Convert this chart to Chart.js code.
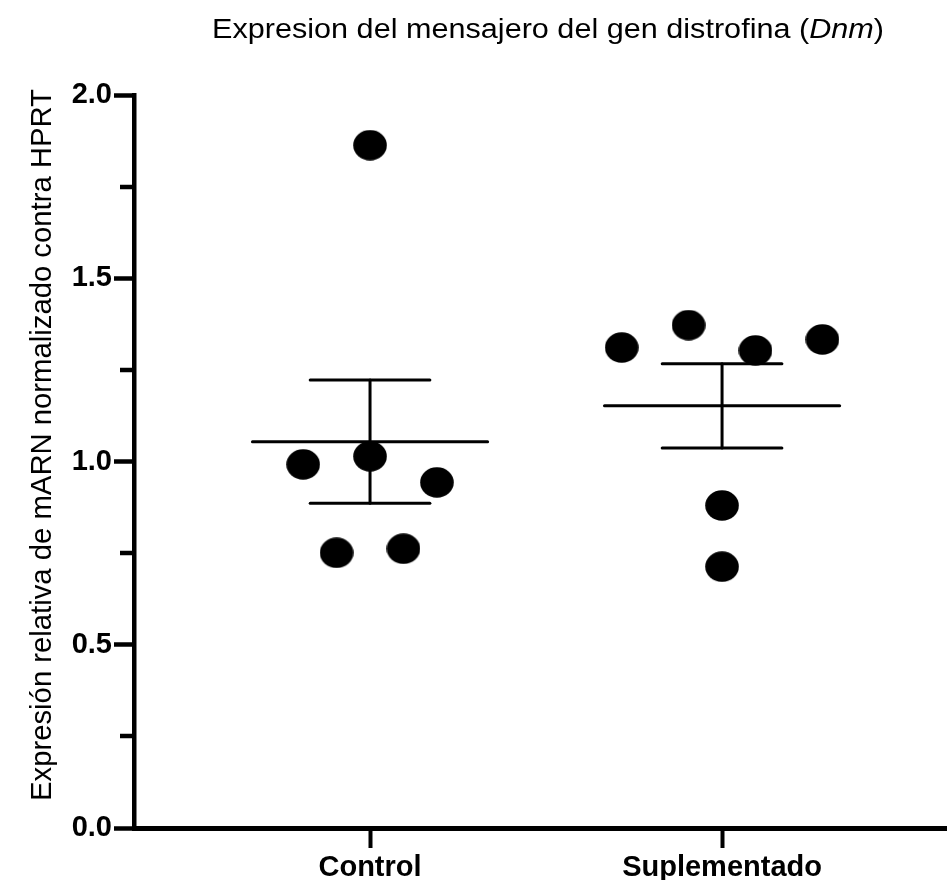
<!DOCTYPE html>
<html>
<head>
<meta charset="utf-8">
<script src="https://cdn.jsdelivr.net/npm/chart.js@4.4.0/dist/chart.umd.min.js"></script>
<style>
  html, body { margin: 0; padding: 0; overflow: hidden; background: #fff; }
  canvas { display: block; }
</style>
</head>
<body>
<canvas id="grafica" width="947" height="880"></canvas>
<script>
// datos
const categorias = ['Control', 'Suplementado'];
const valoresControl = [0.992, 1.863, 1.014, 0.943, 0.751, 0.762];
const columnasControl = [-2, 0, 0, 2, -1, 1];
const valoresSuplementado = [1.311, 1.372, 1.303, 1.333, 0.880, 0.713];
const columnasSuplementado = [-3, -1, 1, 3, 0, 0];
const ticksY = [0, 0.5, 1, 1.5, 2];
const ticksMenoresY = [0.25, 0.75, 1.25, 1.75];

const pasoColumna = 0.095;
const anchoMedia = 0.334;
const anchoBarra = 0.17;
const fuente = '"Liberation Sans", Arial, sans-serif';

function media(v) {
    return v.reduce((a, b) => a + b, 0) / v.length;
}
function errorEstandar(v) {
    const m = media(v);
    const s = v.reduce((a, b) => a + (b - m) ** 2, 0) / (v.length - 1);
    return Math.sqrt(s / v.length);
}

// punto un poco ovalado, como en la figura original
const punto = document.createElement('canvas');
punto.width = 34;
punto.height = 31;
(function () {
    const c = punto.getContext('2d');
    c.fillStyle = '#000';
    c.beginPath();
    c.ellipse(17, 15.5, 16.8, 15.3, 0, 0, Math.PI * 2);
    c.fill();
})();

function puntos(valores, columnas, centro) {
    return valores.map((y, i) => ({ x: centro + columnas[i] * pasoColumna, y: y }));
}

function linea(datos) {
    return {
        data: datos,
        showLine: true,
        borderColor: '#000',
        borderWidth: 3,
        pointRadius: 0,
        borderCapStyle: 'round'
    };
}

function grupo(valores, columnas, centro) {
    const m = media(valores);
    const e = errorEstandar(valores);
    return [
        linea([{ x: centro - anchoMedia, y: m }, { x: centro + anchoMedia, y: m }]),
        linea([{ x: centro - anchoBarra, y: m + e }, { x: centro + anchoBarra, y: m + e }]),
        linea([{ x: centro - anchoBarra, y: m - e }, { x: centro + anchoBarra, y: m - e }]),
        linea([{ x: centro, y: m - e }, { x: centro, y: m + e }]),
        {
            data: puntos(valores, columnas, centro),
            pointStyle: punto,
            pointRadius: 16,
            pointHoverRadius: 16,
            showLine: false
        }
    ];
}

const textos = {
    id: 'textos',
    afterDraw(chart) {
        const ctx = chart.ctx;
        const escalaY = chart.scales.y;
        // ticks menores del eje y
        ctx.save();
        ctx.strokeStyle = '#000';
        ctx.lineWidth = 4.5;
        ticksMenoresY.forEach(v => {
            const py = Math.round(escalaY.getPixelForValue(v));
            ctx.beginPath();
            ctx.moveTo(escalaY.right - 14, py);
            ctx.lineTo(escalaY.right, py);
            ctx.stroke();
        });
        ctx.restore();

        // titulo con parte en cursiva
        ctx.save();
        ctx.fillStyle = '#000';
        ctx.textBaseline = 'alphabetic';
        const normal = '26px ' + fuente;
        const cursiva = 'italic 26px ' + fuente;
        const t1 = 'Expresion del mensajero del gen distrofina (';
        const t2 = 'Dnm';
        const t3 = ')';
        ctx.font = normal;
        const w1 = ctx.measureText(t1).width;
        const w3 = ctx.measureText(t3).width;
        ctx.font = cursiva;
        const w2 = ctx.measureText(t2).width;
        const total = w1 + w2 + w3;
        const ancho = 672;
        ctx.translate(548 - ancho / 2, 38);
        ctx.scale(ancho / total, 1.05);
        ctx.font = normal;
        ctx.fillText(t1, 0, 0);
        ctx.font = cursiva;
        ctx.fillText(t2, w1, 0);
        ctx.font = normal;
        ctx.fillText(t3, w1 + w2, 0);
        ctx.restore();

        // titulo del eje y
        ctx.save();
        ctx.fillStyle = '#000';
        ctx.font = '26px ' + fuente;
        const ty = 'Expresión relativa de mARN normalizado contra HPRT';
        const wy = ctx.measureText(ty).width;
        ctx.translate(51, 445);
        ctx.rotate(-Math.PI / 2);
        ctx.scale(712 / wy, 1.15);
        ctx.textAlign = 'center';
        ctx.textBaseline = 'alphabetic';
        ctx.fillText(ty, 0, 0);
        ctx.restore();
    }
};

new Chart(document.getElementById('grafica'), {
    type: 'scatter',
    data: {
        datasets: [
            ...grupo(valoresControl, columnasControl, 1),
            ...grupo(valoresSuplementado, columnasSuplementado, 2)
        ]
    },
    options: {
        responsive: false,
        animation: false,
        layout: { autoPadding: false, padding: { top: 95, left: 0, right: 0, bottom: 0 } },
        plugins: {
            legend: { display: false },
            tooltip: { enabled: false }
        },
        scales: {
            x: {
                type: 'linear',
                min: 0.3295,
                max: 2.639,
                afterBuildTicks: (escala) => {
                    escala.ticks = categorias.map((c, i) => ({ value: i + 1 }));
                },
                afterFit: (escala) => {
                    escala.height = 52;
                    escala.paddingLeft = 0;
                    escala.paddingRight = 0;
                },
                border: { display: true, color: '#000', width: 5 },
                grid: {
                    drawOnChartArea: false,
                    drawTicks: true,
                    tickLength: 20,
                    tickWidth: 4,
                    tickColor: '#000'
                },
                ticks: {
                    color: '#000',
                    padding: 3,
                    maxRotation: 0,
                    autoSkip: false,
                    font: { family: fuente, size: 29, weight: 'bold' },
                    callback: (v) => categorias[Math.round(v) - 1]
                }
            },
            y: {
                min: 0,
                max: 2,
                afterBuildTicks: (escala) => {
                    escala.ticks = ticksY.map(v => ({ value: v }));
                },
                afterFit: (escala) => { escala.width = 134; },
                border: { display: true, color: '#000', width: 4.5 },
                grid: {
                    drawOnChartArea: false,
                    drawTicks: true,
                    tickLength: 20,
                    tickWidth: 4.5,
                    tickColor: '#000'
                },
                ticks: {
                    color: '#000',
                    padding: 2,
                    font: { family: fuente, size: 29, weight: 'bold' },
                    callback: (v) => v.toFixed(1)
                }
            }
        }
    },
    plugins: [textos]
});
</script>
</body>
</html>
